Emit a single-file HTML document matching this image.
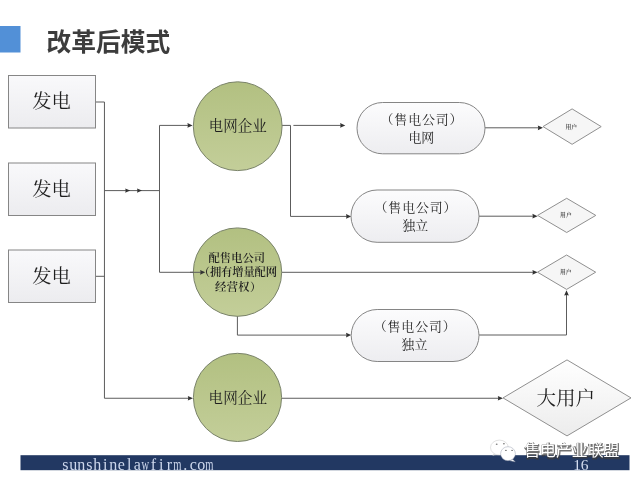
<!DOCTYPE html>
<html lang="zh-CN">
<head>
<meta charset="utf-8">
<title>改革后模式</title>
<style>
html,body{margin:0;padding:0;background:#ffffff;}
body{width:640px;height:480px;overflow:hidden;position:relative;font-family:"Liberation Sans",sans-serif;}
svg{position:absolute;left:0;top:0;display:block;filter:blur(0.35px);}
.t{position:absolute;color:transparent;white-space:nowrap;line-height:1;margin:0;font-family:"Liberation Serif",serif;}
</style>
</head>
<body>
<svg width="640" height="480" viewBox="0 0 640 480">
<defs>
<filter id="sh" x="-5%" y="-20%" width="110%" height="140%"><feGaussianBlur stdDeviation="0.45"/></filter>
<linearGradient id="gb" x1="0" y1="0" x2="0" y2="1"><stop offset="0" stop-color="#f9f9fb"/><stop offset="1" stop-color="#ececef"/></linearGradient>
<linearGradient id="gp" x1="0" y1="0" x2="0" y2="1"><stop offset="0" stop-color="#fcfcfd"/><stop offset="1" stop-color="#ededf0"/></linearGradient>
<linearGradient id="gd" x1="0" y1="0" x2="0" y2="1"><stop offset="0" stop-color="#ffffff"/><stop offset="1" stop-color="#ececec"/></linearGradient>
<linearGradient id="gc" x1="0" y1="0" x2="0" y2="1"><stop offset="0" stop-color="#b2c081"/><stop offset="1" stop-color="#c3ce99"/></linearGradient>
</defs>
<rect width="640" height="480" fill="#ffffff"/>
<rect x="0" y="26" width="20.5" height="26.5" fill="#5290d7"/>
<text x="46.55" y="51.35" font-family="'Liberation Sans','Noto Sans CJK SC',sans-serif" font-weight="bold" font-size="24.72" fill="#3c3c3c">改革后模式</text>
<polyline points="95.50,102.00 104.45,102.00 104.45,398.25 190.00,398.25" fill="none" stroke="#5c5c5c" stroke-width="1"/>
<polyline points="95.50,276.30 104.45,276.30" fill="none" stroke="#5c5c5c" stroke-width="1"/>
<polyline points="104.45,190.60 159.50,190.60" fill="none" stroke="#5c5c5c" stroke-width="1"/>
<polygon points="130.20,190.60 125.20,188.40 125.70,190.60 125.20,192.80" fill="#333333"/>
<polygon points="142.00,190.60 137.00,188.40 137.50,190.60 137.00,192.80" fill="#333333"/>
<polyline points="190.00,125.40 159.50,125.40 159.50,272.30 202.00,272.30" fill="none" stroke="#5c5c5c" stroke-width="1"/>
<polygon points="192.60,125.40 187.40,123.05 187.90,125.40 187.40,127.75" fill="#333333"/>
<polygon points="193.00,398.25 187.80,395.90 188.30,398.25 187.80,400.60" fill="#333333"/>
<polyline points="282.00,125.40 290.50,125.40 290.50,216.40 348.00,216.40" fill="none" stroke="#5c5c5c" stroke-width="1"/>
<polygon points="351.20,216.40 346.00,214.05 346.50,216.40 346.00,218.75" fill="#333333"/>
<polyline points="293.40,125.40 342.00,125.40" fill="none" stroke="#5c5c5c" stroke-width="1"/>
<polygon points="345.30,125.40 340.10,123.05 340.60,125.40 340.10,127.75" fill="#333333"/>
<polyline points="485.00,127.80 540.00,127.80" fill="none" stroke="#5c5c5c" stroke-width="1"/>
<polygon points="543.00,127.80 537.80,125.45 538.30,127.80 537.80,130.15" fill="#333333"/>
<polyline points="479.00,216.20 535.00,216.20" fill="none" stroke="#5c5c5c" stroke-width="1"/>
<polygon points="537.60,216.20 532.40,213.85 532.90,216.20 532.40,218.55" fill="#333333"/>
<polyline points="282.00,272.30 535.00,272.30" fill="none" stroke="#5c5c5c" stroke-width="1"/>
<polygon points="537.60,272.30 532.40,269.95 532.90,272.30 532.40,274.65" fill="#333333"/>
<polyline points="237.40,316.00 237.40,335.10 348.00,335.10" fill="none" stroke="#5c5c5c" stroke-width="1"/>
<polygon points="351.20,335.10 346.00,332.75 346.50,335.10 346.00,337.45" fill="#333333"/>
<polyline points="479.00,335.00 566.50,335.00 566.50,293.00" fill="none" stroke="#5c5c5c" stroke-width="1"/>
<polygon points="566.50,290.20 564.15,295.40 566.50,294.90 568.85,295.40" fill="#333333"/>
<polyline points="281.50,398.25 500.00,398.25" fill="none" stroke="#5c5c5c" stroke-width="1"/>
<polygon points="503.00,398.25 497.80,395.90 498.30,398.25 497.80,400.60" fill="#333333"/>
<rect x="8.5" y="75.5" width="87" height="52.5" fill="url(#gb)" stroke="#868686" stroke-width="1"/>
<text x="32.30" y="108.43" font-family="'Liberation Serif','Noto Serif CJK SC',serif" font-size="19.3" fill="#1e1e1e">发电</text>
<rect x="8.5" y="163.0" width="87" height="52.5" fill="url(#gb)" stroke="#868686" stroke-width="1"/>
<text x="32.30" y="195.93" font-family="'Liberation Serif','Noto Serif CJK SC',serif" font-size="19.3" fill="#1e1e1e">发电</text>
<rect x="8.5" y="250.0" width="87" height="52.5" fill="url(#gb)" stroke="#868686" stroke-width="1"/>
<text x="32.30" y="282.93" font-family="'Liberation Serif','Noto Serif CJK SC',serif" font-size="19.3" fill="#1e1e1e">发电</text>
<circle cx="237.7" cy="126.2" r="44.4" fill="url(#gc)" stroke="#7a836a" stroke-width="1"/>
<circle cx="237.5" cy="272.1" r="44.2" fill="url(#gc)" stroke="#7a836a" stroke-width="1"/>
<circle cx="237.5" cy="397.4" r="44.1" fill="url(#gc)" stroke="#7a836a" stroke-width="1"/>
<polyline points="190.00,272.30 202.00,272.30" fill="none" stroke="#5c5c5c" stroke-width="1"/>
<polygon points="205.30,272.30 200.10,269.95 200.60,272.30 200.10,274.65" fill="#333333"/>
<text x="208.80" y="131.11" font-family="'Liberation Serif','Noto Serif CJK SC',serif" font-size="14.5" fill="#1e1e1e">电网企业</text>
<text x="208.60" y="403.35" font-family="'Liberation Serif','Noto Serif CJK SC',serif" font-size="14.6" fill="#1e1e1e">电网企业</text>
<g font-family="'Liberation Serif','Noto Serif CJK SC',serif" font-size="11.3" font-weight="600" fill="#1e1e1e">
<text x="208.55" y="261.59">配售电公司</text>
<text x="198.74" y="275.89" textLength="78.3" lengthAdjust="spacing">（拥有增量配网</text>
<text x="214.90" y="291.09" textLength="46.5" lengthAdjust="spacing">经营权）</text>
</g>
<rect x="357.0" y="102.5" width="128.0" height="51.3" rx="25.6" fill="url(#gp)" stroke="#858585" stroke-width="1"/>
<g font-family="'Liberation Serif','Noto Serif CJK SC',serif" font-size="12.9" fill="#1e1e1e" text-anchor="middle">
<text x="421.5" y="124.00" textLength="81.9" lengthAdjust="spacing">（售电公司）</text>
<text x="421.3" y="142.00">电网</text>
</g>
<rect x="351.0" y="190.0" width="128.0" height="52.3" rx="26.1" fill="url(#gp)" stroke="#858585" stroke-width="1"/>
<g font-family="'Liberation Serif','Noto Serif CJK SC',serif" font-size="12.9" fill="#1e1e1e" text-anchor="middle">
<text x="415.5" y="211.90" textLength="81.9" lengthAdjust="spacing">（售电公司）</text>
<text x="415.3" y="229.90">独立</text>
</g>
<rect x="351.2" y="309.5" width="127.8" height="52.0" rx="26.0" fill="url(#gp)" stroke="#858585" stroke-width="1"/>
<g font-family="'Liberation Serif','Noto Serif CJK SC',serif" font-size="12.9" fill="#1e1e1e" text-anchor="middle">
<text x="414.7" y="331.00" textLength="81.9" lengthAdjust="spacing">（售电公司）</text>
<text x="414.5" y="349.00">独立</text>
</g>
<polygon points="543.0,126.6 572.1,108.9 601.2,126.6 572.1,144.3" fill="#f6f6f6" stroke="#909090" stroke-width="1"/>
<text x="565.50" y="128.60" font-family="'Liberation Serif','Noto Serif CJK SC',serif" font-size="5.8" font-weight="600" fill="#3a3a3a">用户</text>
<polygon points="537.6,215.4 566.7,198.3 595.8,215.4 566.7,232.5" fill="#f6f6f6" stroke="#909090" stroke-width="1"/>
<text x="560.10" y="217.40" font-family="'Liberation Serif','Noto Serif CJK SC',serif" font-size="5.8" font-weight="600" fill="#3a3a3a">用户</text>
<polygon points="537.5,272.2 566.6,255.0 595.7,272.2 566.6,289.4" fill="#f6f6f6" stroke="#909090" stroke-width="1"/>
<text x="560.00" y="274.20" font-family="'Liberation Serif','Noto Serif CJK SC',serif" font-size="5.8" font-weight="600" fill="#3a3a3a">用户</text>
<polygon points="503.0,397.9 567.0,359.9 631.0,397.9 567.0,435.9" fill="url(#gd)" stroke="#909090" stroke-width="1"/>
<text x="536.40" y="405.05" font-family="'Liberation Serif','Noto Serif CJK SC',serif" font-size="19.6" fill="#1e1e1e">大用户</text>
<rect x="20.5" y="455.2" width="609" height="15" fill="#223862"/>
<g font-family="Liberation Serif, serif" font-size="16" fill="#cdd7ec" text-anchor="middle"><text transform="translate(65.3 469.6) scale(1.00 1)">s</text><text transform="translate(73.3 469.6) scale(1.00 1)">u</text><text transform="translate(81.3 469.6) scale(1.00 1)">n</text><text transform="translate(89.3 469.6) scale(1.00 1)">s</text><text transform="translate(97.3 469.6) scale(1.00 1)">h</text><text transform="translate(105.3 469.6) scale(1.00 1)">i</text><text transform="translate(113.3 469.6) scale(1.00 1)">n</text><text transform="translate(121.3 469.6) scale(1.00 1)">e</text><text transform="translate(129.3 469.6) scale(1.00 1)">l</text><text transform="translate(137.3 469.6) scale(1.00 1)">a</text><text transform="translate(145.3 469.6) scale(0.66 1)">w</text><text transform="translate(153.3 469.6) scale(1.00 1)">f</text><text transform="translate(161.3 469.6) scale(1.00 1)">i</text><text transform="translate(169.3 469.6) scale(1.00 1)">r</text><text transform="translate(177.3 469.6) scale(0.66 1)">m</text><text transform="translate(185.3 469.6) scale(1.00 1)">.</text><text transform="translate(193.3 469.6) scale(1.00 1)">c</text><text transform="translate(201.3 469.6) scale(1.00 1)">o</text><text transform="translate(209.3 469.6) scale(0.66 1)">m</text></g>
<text x="573.3" y="469.7" font-family="Liberation Serif, serif" font-size="15.5" fill="#d3dcef" letter-spacing="-0.3">16</text>
<text x="524.60" y="456.50" font-family="'Liberation Sans','Noto Sans CJK SC',sans-serif" font-size="15.86" font-weight="bold" fill="#3c3c3c" stroke="#3c3c3c" stroke-width="1.2" stroke-linejoin="round" opacity=".72" filter="url(#sh)">售电产业联盟</text>
<text x="524.20" y="456.20" font-family="'Liberation Sans','Noto Sans CJK SC',sans-serif" font-size="15.88" fill="#ffffff">售电产业联盟</text>
<g fill="#ffffff" stroke="#b0b0b0" stroke-opacity=".45" stroke-width="0.8"><path d="M494 453.8 l-1.3 1.6 2.8 -0.6z"/><ellipse cx="499.4" cy="447.6" rx="8.9" ry="7.5"/></g><g fill="#ffffff" stroke="#8e96a8" stroke-opacity=".55" stroke-width="0.8"><path d="M512.6 459.2 l2.6 2.6 -5.2 -1z"/><ellipse cx="508" cy="453.7" rx="7.4" ry="7"/></g><g fill="#4a4a4a" fill-opacity=".7"><ellipse cx="496.7" cy="444.2" rx=".95" ry=".7"/><ellipse cx="503.9" cy="443.7" rx=".95" ry=".7"/><ellipse cx="505.9" cy="450.4" rx=".95" ry=".6"/><ellipse cx="512.1" cy="450.4" rx=".95" ry=".6"/></g>
</svg>
<div class="t" style="left:61px;top:456px;font-size:16px;">sunshinelawfirm.com 16</div>
<h1 class="t" style="left:47px;top:29px;font-size:25px;">改革后模式</h1>
<div class="t" style="left:33px;top:92px;font-size:18px;">发电</div>
<div class="t" style="left:33px;top:180px;font-size:18px;">发电</div>
<div class="t" style="left:33px;top:267px;font-size:18px;">发电</div>
<div class="t" style="left:209px;top:118px;font-size:14px;">电网企业</div>
<div class="t" style="left:209px;top:251px;font-size:11px;">配售电公司（拥有增量配网经营权）</div>
<div class="t" style="left:209px;top:390px;font-size:14px;">电网企业</div>
<div class="t" style="left:388px;top:112px;font-size:13px;">（售电公司）电网</div>
<div class="t" style="left:382px;top:200px;font-size:13px;">（售电公司）独立</div>
<div class="t" style="left:382px;top:320px;font-size:13px;">（售电公司）独立</div>
<div class="t" style="left:566px;top:124px;font-size:6px;">用户</div>
<div class="t" style="left:560px;top:212px;font-size:6px;">用户</div>
<div class="t" style="left:560px;top:269px;font-size:6px;">用户</div>
<div class="t" style="left:538px;top:389px;font-size:18px;">大用户</div>
<div class="t" style="left:524px;top:443px;font-size:16px;">售电产业联盟</div>
</body>
</html>
